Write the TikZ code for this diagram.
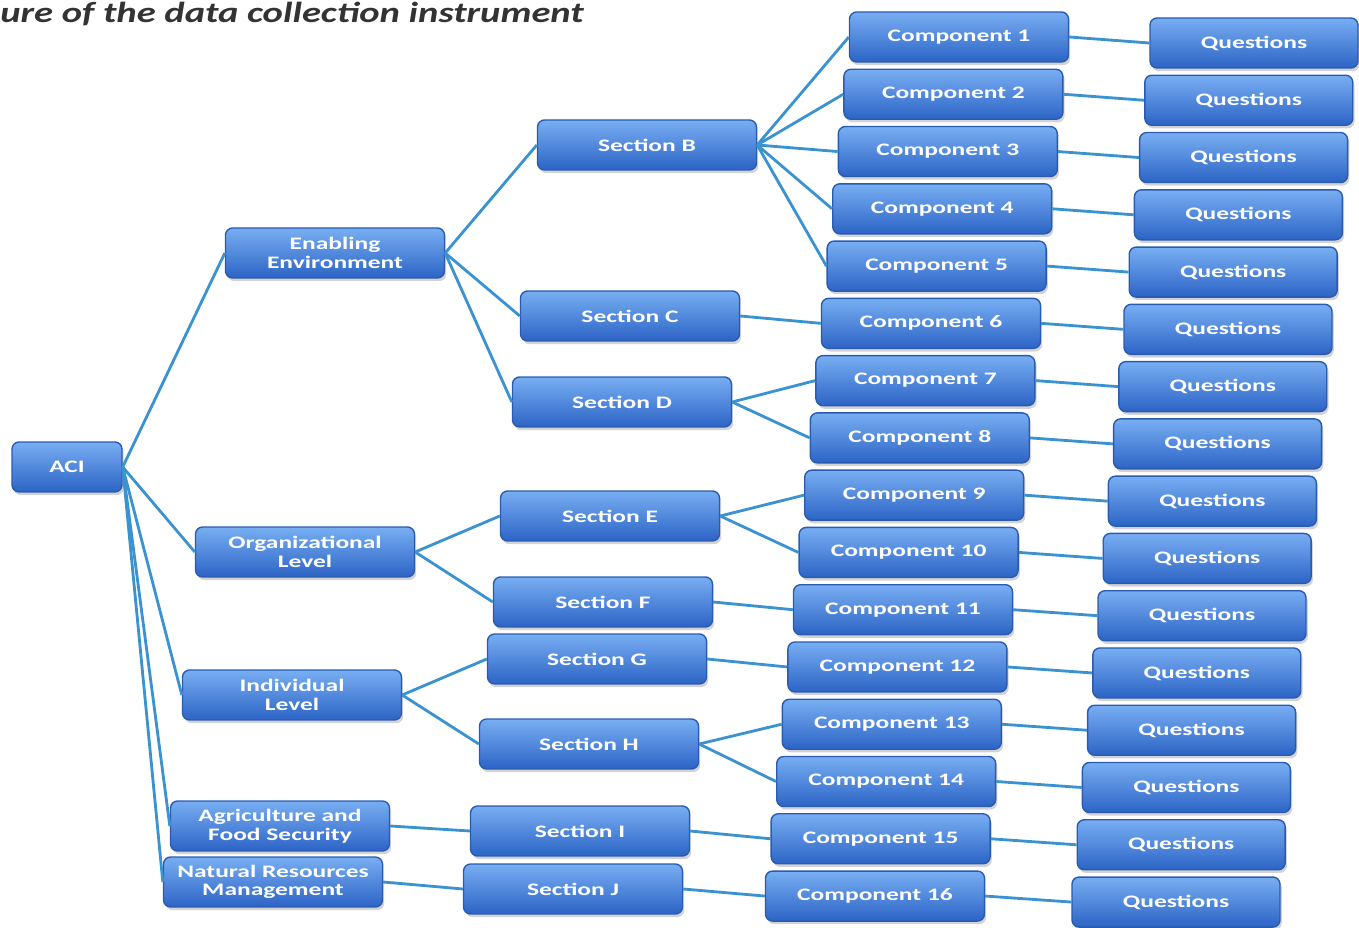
\documentclass[tikz,border=0pt]{standalone}
\usepackage{fontspec}
\setmainfont{Carlito}
\newfontfamily\boxfont[FakeStretch=1.45]{Carlito}
\newfontfamily\titlefont[FakeStretch=1.33]{Carlito}
\usetikzlibrary{shadows}
\definecolor{boxtop}{HTML}{78AEF2}
\definecolor{boxbot}{HTML}{2C64C6}
\definecolor{boxline}{HTML}{2A5BB0}
\definecolor{linkblue}{HTML}{3A92D0}
\begin{document}
\begin{tikzpicture}[x=0.02cm,y=-0.02cm,
	blockbox/.style={rectangle,rounded corners=4pt,draw=boxline,line width=0.8pt,
		top color=boxtop,bottom color=boxbot,text=white,align=center,
		font=\boxfont\bfseries\fontsize{10}{10.5}\selectfont,
		minimum width=4.38cm,minimum height=1cm,inner sep=1pt,
		drop shadow={opacity=0.35,shadow xshift=1pt,shadow yshift=-1.8pt}},
	conn/.style={draw=linkblue,line width=1.6pt}]
	\useasboundingbox (0,0) rectangle (1359,928);
	\node[anchor=base west,inner sep=0pt,text=black!80,
		font=\titlefont\bfseries\itshape\fontsize{16.5}{19}\selectfont] at (0,23) (title) {ure of the data collection instrument};
	% root and first level
	\node[blockbox,minimum width=2.2cm] at (67,467) (aci) {ACI};
	\node[blockbox] at (335,253) (enab) {Enabling\\Environment};
	\node[blockbox] at (305,552) (org) {Organizational\\Level};
	\node[blockbox] at (292,695) (indiv) {Individual\\Level};
	\node[blockbox] at (280,826) (agri) {Agriculture and\\Food Security};
	\node[blockbox] at (273,882) (nrm) {Natural Resources\\Management};
	% sections
	\node[blockbox] at (647,145) (secB) {Section B};
	\node[blockbox] at (630,316) (secC) {Section C};
	\node[blockbox] at (622,402) (secD) {Section D};
	\node[blockbox] at (610,516) (secE) {Section E};
	\node[blockbox] at (603,602) (secF) {Section F};
	\node[blockbox] at (597,659) (secG) {Section G};
	\node[blockbox] at (589,744) (secH) {Section H};
	\node[blockbox] at (580,831) (secI) {Section I};
	\node[blockbox] at (573,889) (secJ) {Section J};
	% components and questions
	\foreach \i [evaluate=\i as \cx using 959-5.6*(\i-1),
		evaluate=\i as \cy using 37+57.27*(\i-1),
		evaluate=\i as \qx using 1254-5.2*(\i-1),
		evaluate=\i as \qy using 43+57.27*(\i-1)] in {1,...,16} {
		\node[blockbox] at (\cx,\cy) (comp\i) {Component \i};
		\node[blockbox,minimum width=4.16cm] at (\qx,\qy) (ques\i) {Questions};
		\draw[conn] (comp\i.east) -- (ques\i.west);
	}
	\foreach \n in {enab,org,indiv,agri,nrm}
		\draw[conn] (aci.east) -- (\n.west);
	\draw[conn] (enab.east) -- (secB.west);
	\draw[conn] (enab.east) -- (secC.west);
	\draw[conn] (enab.east) -- (secD.west);
	\draw[conn] (org.east) -- (secE.west);
	\draw[conn] (org.east) -- (secF.west);
	\draw[conn] (indiv.east) -- (secG.west);
	\draw[conn] (indiv.east) -- (secH.west);
	\draw[conn] (agri.east) -- (secI.west);
	\draw[conn] (nrm.east) -- (secJ.west);
	\foreach \s/\c in {B/1,B/2,B/3,B/4,B/5,C/6,D/7,D/8,E/9,E/10,F/11,G/12,H/13,H/14,I/15,J/16}
		\draw[conn] (sec\s.east) -- (comp\c.west);
\end{tikzpicture}
\end{document}
